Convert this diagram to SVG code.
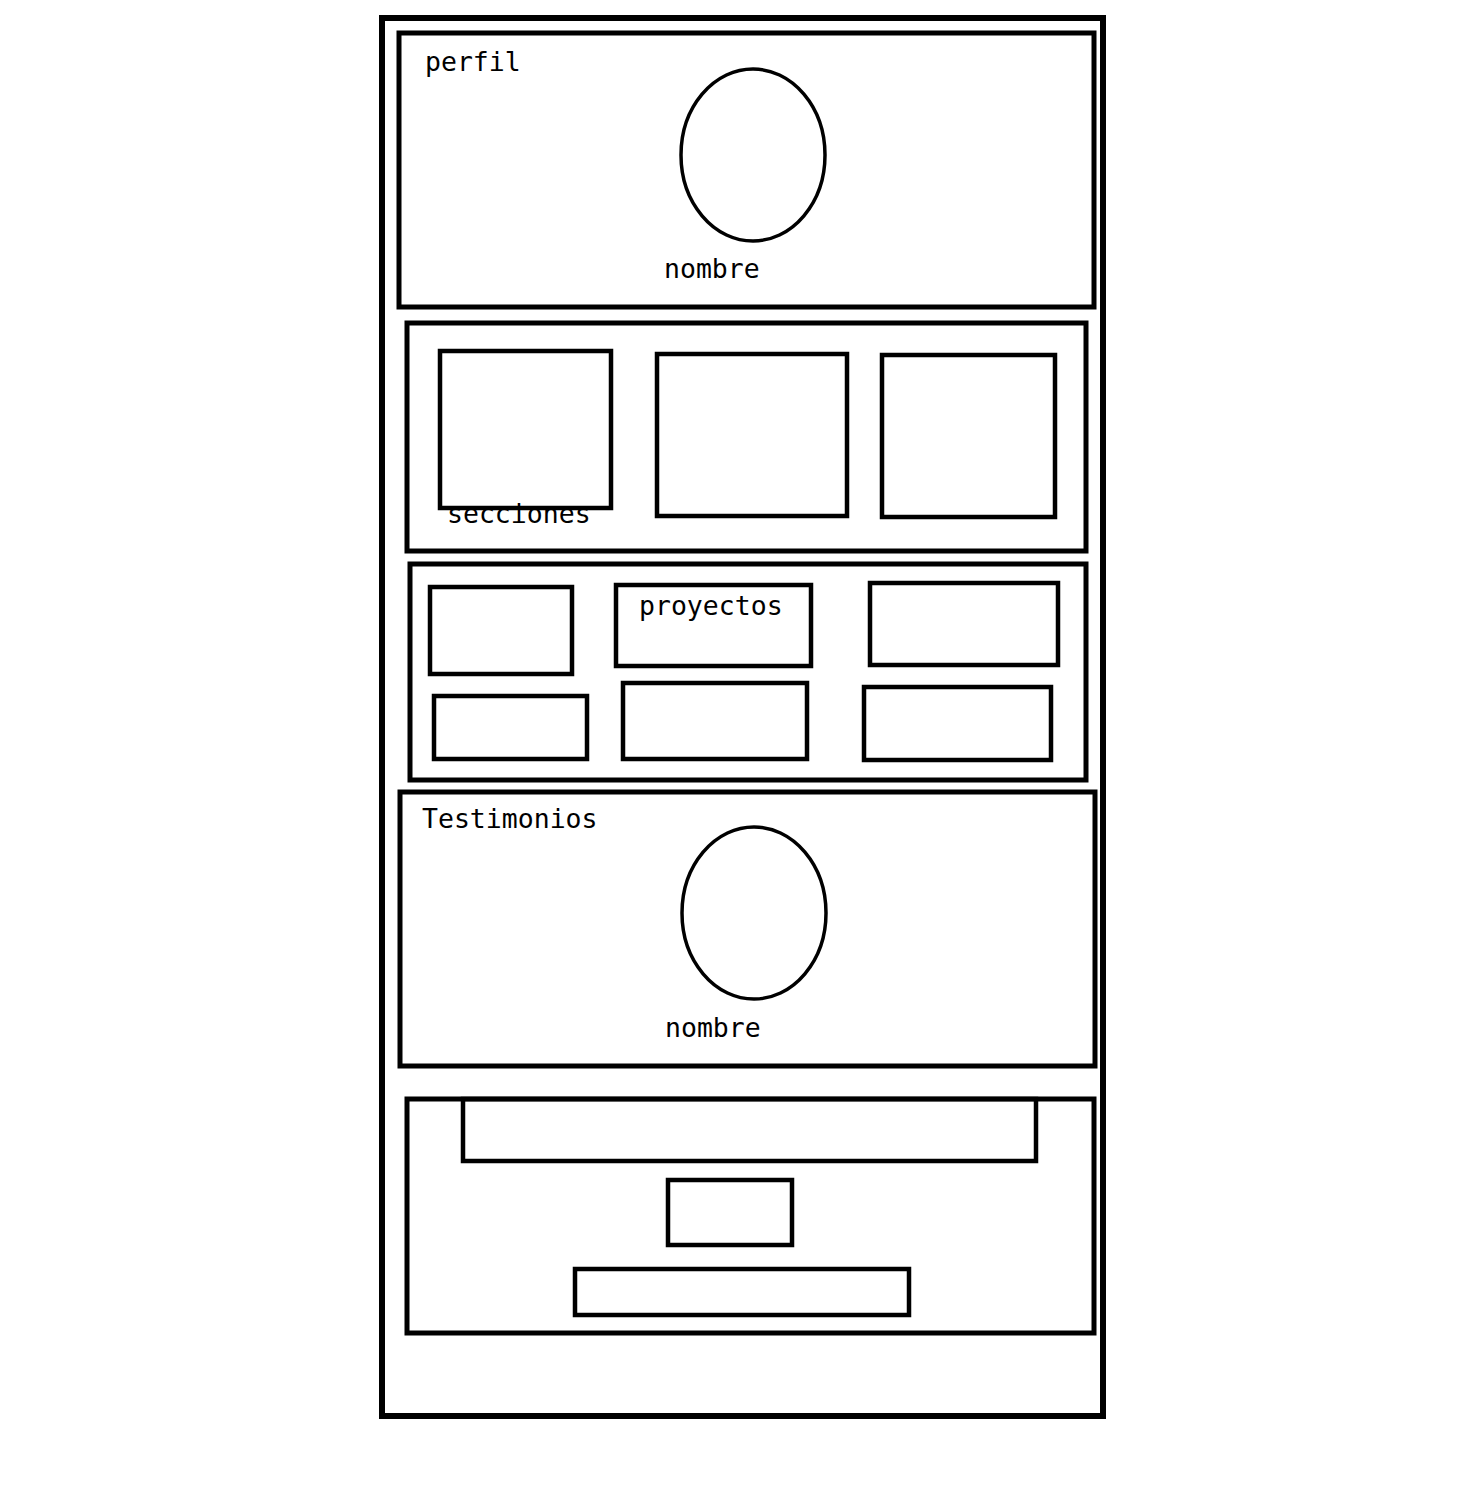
<svg xmlns="http://www.w3.org/2000/svg" width="1472" height="1494" viewBox="0 0 1472 1494">
<style>
.frame{fill:none;stroke:#000;stroke-width:6}
.sec{fill:none;stroke:#000;stroke-width:5}
.box{fill:none;stroke:#000;stroke-width:4.5}
.oval{fill:none;stroke:#000;stroke-width:3.5}
.lbl{font-family:"DejaVu Sans Mono","Liberation Mono",monospace;font-size:26.5px;fill:#000}
</style>
<rect width="1472" height="1494" fill="#fff"/>
<g id="page"><rect class="frame" x="382" y="18" width="721" height="1398"/></g>
<g id="perfil">
<rect class="sec" x="399" y="33" width="695" height="274"/>
<text class="lbl" x="425" y="71">perfil</text>
<ellipse class="oval" cx="753" cy="155" rx="72" ry="86"/>
<text class="lbl" x="664" y="278">nombre</text>
</g>
<g id="secciones">
<rect class="sec" x="407" y="323" width="679" height="228"/>
<text class="lbl" x="447" y="523">secciones</text>
<rect class="box" x="440" y="351" width="171" height="157"/>
<rect class="box" x="657" y="354" width="190" height="162"/>
<rect class="box" x="882" y="355" width="173" height="162"/>
</g>
<g id="proyectos">
<rect class="sec" x="410" y="564" width="676" height="216"/>
<rect class="box" x="430" y="587" width="142" height="87"/>
<rect class="box" x="616" y="585" width="195" height="81"/>
<text class="lbl" x="639" y="615">proyectos</text>
<rect class="box" x="870" y="583" width="188" height="82"/>
<rect class="box" x="434" y="696" width="153" height="63"/>
<rect class="box" x="623" y="683" width="184" height="76"/>
<rect class="box" x="864" y="687" width="187" height="73"/>
</g>
<g id="testimonios">
<rect class="sec" x="400" y="792" width="695" height="274"/>
<text class="lbl" x="422" y="828">Testimonios</text>
<ellipse class="oval" cx="754" cy="913" rx="72" ry="86"/>
<text class="lbl" x="665" y="1037">nombre</text>
</g>
<g id="footer">
<rect class="sec" x="407" y="1099" width="687" height="234"/>
<rect class="box" x="463" y="1099" width="573" height="62"/>
<rect class="box" x="668" y="1180" width="124" height="65"/>
<rect class="box" x="575" y="1269" width="334" height="46"/>
</g>
</svg>
